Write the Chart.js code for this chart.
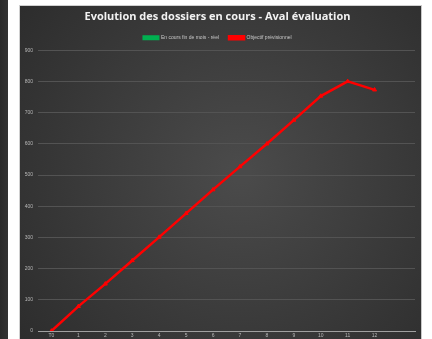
<!DOCTYPE html>
<html><head><meta charset="utf-8">
<script src="https://cdn.jsdelivr.net/npm/chart.js@4"></script>
<style>
html,body{margin:0;padding:0;background:#fff;width:432px;height:339px;overflow:hidden;}
#strip{position:absolute;left:0;top:0;width:8px;height:339px;background:linear-gradient(90deg,#2a2a2a,#333);}
#panel{position:absolute;left:19px;top:5px;width:403px;height:334px;border-left:1px solid #d0d0d0;border-top:1px solid #d0d0d0;border-right:1px solid #c8c8c8;box-sizing:border-box;}
#c{position:absolute;left:0;top:0;}
</style></head><body>
<div id="strip"></div>
<div id="panel"><canvas id="c" width="401" height="333"></canvas></div>
<script>
const categories = ['T0','1','2','3','4','5','6','7','8','9','10','11','12',''];
const reelValues = [null,null,null,null,null,null,null,null,null,null,null,null,null,null];
const objectifValues = [0,79,151,226,301,377,453,527,600,676,753,800,773,null];
const yTicks = [0,100,200,300,400,500,600,700,800,900];

const bgPlugin = {
  id:'bg',
  beforeDraw(chart){
    const {ctx,width,height}=chart;
    const g=ctx.createRadialGradient(width*0.55,height*0.5,10,width*0.55,height*0.5,Math.max(width,height)*0.75);
    g.addColorStop(0,'#4a4a4a');
    g.addColorStop(1,'#2a2a2a');
    ctx.save();ctx.fillStyle=g;ctx.fillRect(0,0,width,height);ctx.restore();
  }
};

new Chart(document.getElementById('c'),{
  type:'line',
  data:{labels:categories,datasets:[
    {label:'En cours fin de mois - réel',data:reelValues,borderColor:'#00b050',backgroundColor:'#00b050',borderWidth:2},
    {label:'Objectif prévisionnel',data:objectifValues,borderColor:'#ff0000',backgroundColor:'#ff0000',borderWidth:2.5,
     pointStyle:'triangle',pointRadius:2.3,pointBackgroundColor:'#ff0000',pointBorderColor:'#ff0000',pointBorderWidth:1,tension:0}
  ]},
  options:{
    responsive:false,animation:false,
    layout:{padding:{left:0,right:6,top:4,bottom:0}},
    plugins:{
      title:{display:true,text:'Evolution des dossiers en cours - Aval évaluation',color:'#f2f2f2',
        font:{family:'Open Sans',size:11,weight:'bold'},padding:{top:0,bottom:2}},
      legend:{display:true,labels:{color:'#c8c8c8',font:{family:'Liberation Sans',size:5},boxWidth:15,boxHeight:3,padding:10}},
      tooltip:{enabled:false}
    },
    scales:{
      x:{offset:true,grid:{display:false,drawTicks:false},border:{color:'#a0a0a0',width:1},
        ticks:{color:'#b8b8b8',font:{family:'Liberation Sans',size:5},padding:2,maxRotation:0,autoSkip:false},
        afterFit(s){s.height=8;}},
      y:{min:0,max:900,grid:{color:'#535353',lineWidth:1,drawTicks:false},border:{display:false},
        afterBuildTicks(s){s.ticks=yTicks.map(v=>({value:v}));},
        ticks:{color:'#b8b8b8',font:{family:'Liberation Sans',size:5},padding:5},
        afterFit(s){s.width=18;}}
    }
  },
  plugins:[bgPlugin]
});
</script>
</body></html>
